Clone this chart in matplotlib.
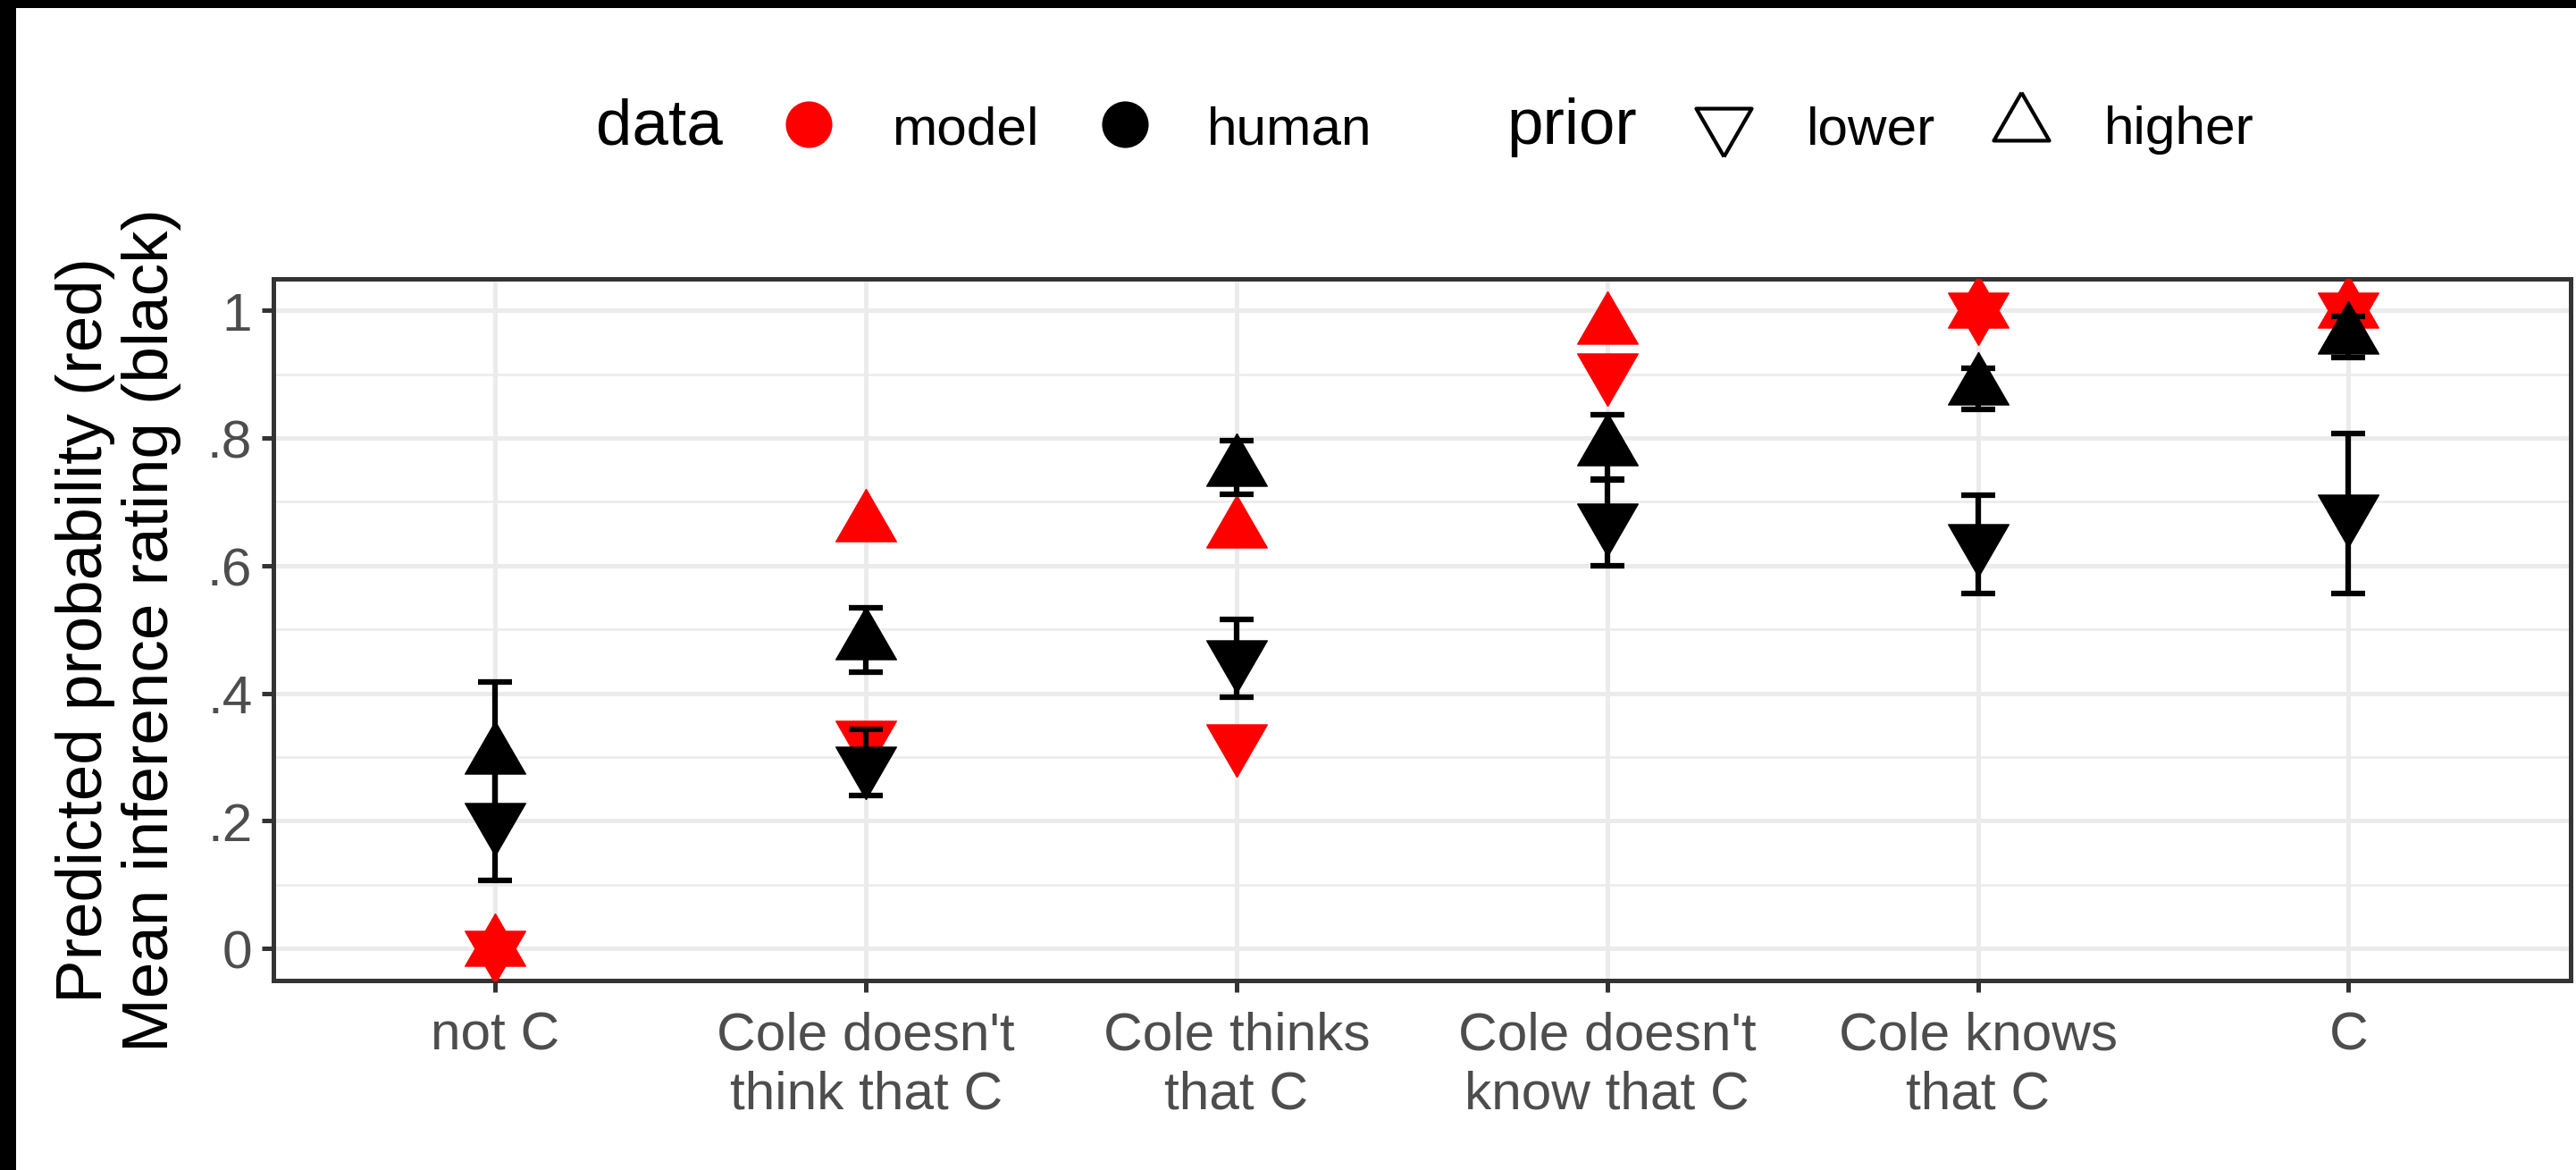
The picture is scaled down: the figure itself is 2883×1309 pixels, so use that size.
import numpy as np
import matplotlib
matplotlib.use("Agg")
from matplotlib import pyplot as plt
from matplotlib.lines import Line2D
from matplotlib.patches import Rectangle

plt.rcParams['font.family'] = ['Liberation Sans', 'DejaVu Sans']

# data
conditions = ["not C", "Cole doesn't\nthink that C", "Cole thinks\nthat C",
              "Cole doesn't\nknow that C", "Cole knows\nthat C", "C"]

model_lower  = [0.0, 0.330, 0.324, 0.905, 1.0, 1.0]
model_higher = [0.0, 0.665, 0.656, 0.975, 1.0, 1.0]

human_lower    = [0.200, 0.289, 0.455, 0.670, 0.638, 0.684]
human_lower_lo = [0.107, 0.240, 0.394, 0.600, 0.556, 0.556]
human_lower_hi = [0.295, 0.343, 0.516, 0.735, 0.710, 0.807]

human_higher    = [0.301, 0.481, 0.752, 0.784, 0.880, 0.960]
human_higher_lo = [0.200, 0.433, 0.712, 0.734, 0.845, 0.926]
human_higher_hi = [0.417, 0.534, 0.796, 0.836, 0.910, 0.990]

yticks      = [0, 0.2, 0.4, 0.6, 0.8, 1.0]
ytick_names = ["0", ".2", ".4", ".6", ".8", "1"]

# triangles centred on their centroid (like R's pch 17 / 25)
up_tri   = [(0, 1), (-0.866, -0.5), (0.866, -0.5), (0, 1)]
down_tri = [(0, -1), (-0.866, 0.5), (0.866, 0.5), (0, -1)]

W, H = 2883, 1310
fig = plt.figure(figsize=(W / 300, H / 300), dpi=300)
ax = fig.add_axes([0.106, 0.162, 0.892, 0.5994])

x = np.arange(1, len(conditions) + 1)
ms = 18.8

ax.plot(x, model_lower, ls='none', marker=down_tri, ms=ms, color='red', mew=0.3, zorder=3)
ax.plot(x, model_higher, ls='none', marker=up_tri, ms=ms, color='red', mew=0.3, zorder=3)

hl = np.array(human_lower)
hh = np.array(human_higher)
ax.errorbar(x, hl, yerr=[hl - np.array(human_lower_lo), np.array(human_lower_hi) - hl],
            fmt='none', ecolor='black', elinewidth=1.5, capsize=4.5, capthick=1.5, zorder=4)
ax.errorbar(x, hh, yerr=[hh - np.array(human_higher_lo), np.array(human_higher_hi) - hh],
            fmt='none', ecolor='black', elinewidth=1.5, capsize=4.5, capthick=1.5, zorder=4)

ax.plot(x, human_lower, ls='none', marker=down_tri, ms=ms, color='black', mew=0.3, zorder=5)
ax.plot(x, human_higher, ls='none', marker=up_tri, ms=ms, color='black', mew=0.3, zorder=5)

ax.set_xlim(0.4, len(conditions) + 0.6)
ax.set_ylim(-0.05, 1.05)
ax.set_xticks(x)
ax.set_xticklabels(conditions, linespacing=1.25)
ax.set_yticks(yticks)
ax.set_yticklabels(ytick_names)
ax.set_yticks(np.arange(0.1, 1.0, 0.2), minor=True)

ax.set_axisbelow(True)
ax.grid(which='major', color='#EBEBEB', lw=1.2)
ax.grid(which='minor', axis='y', color='#EBEBEB', lw=0.6)
for s in ax.spines.values():
    s.set_color('#333333')
    s.set_linewidth(1.2)
ax.tick_params(which='major', length=3.1, width=1.2, color='#333333',
               labelcolor='#4D4D4D', labelsize=14.5, pad=2.5)
ax.tick_params(axis='x', pad=5)
ax.tick_params(which='minor', length=0)

ax.set_ylabel("Predicted probability (red)\nMean inference rating (black)",
              fontsize=17.5, linespacing=1.12, labelpad=7)

# legends along the top
blank = Line2D([], [], ls='none', marker='')
h_model = Line2D([], [], ls='none', marker='o', ms=11.5, color='red')
h_human = Line2D([], [], ls='none', marker='o', ms=11.5, color='black')
h_lower = Line2D([], [], ls='none', marker=down_tri, ms=17.2, mfc='none', mec='black', mew=1.0)
h_higher = Line2D([], [], ls='none', marker=up_tri, ms=17.2, mfc='none', mec='black', mew=1.0)

leg_kw = dict(ncol=3, loc='center left', frameon=False, fontsize=14.5, handlelength=1.4,
              handletextpad=0.83, columnspacing=0.9, borderpad=0, borderaxespad=0)
leg1 = fig.legend([blank, h_model, h_human], ["data", "model", "human"],
                  bbox_to_anchor=(0.1845, 0.891), **leg_kw)
leg1.get_texts()[0].set_fontsize(17.5)
leg2 = fig.legend([blank, h_lower, h_higher], ["prior", "lower", "higher"],
                  bbox_to_anchor=(0.5383, 0.891), **leg_kw)
leg2.get_texts()[0].set_fontsize(17.5)

# black bands on top and left edge
fig.add_artist(Rectangle((0, 1 - 10 / H), 1, 10 / H, transform=fig.transFigure,
                         color='black', lw=0))
fig.add_artist(Rectangle((0, 0), 18 / W, 1, transform=fig.transFigure,
                         color='black', lw=0))

fig.savefig('out.png', dpi=300)
